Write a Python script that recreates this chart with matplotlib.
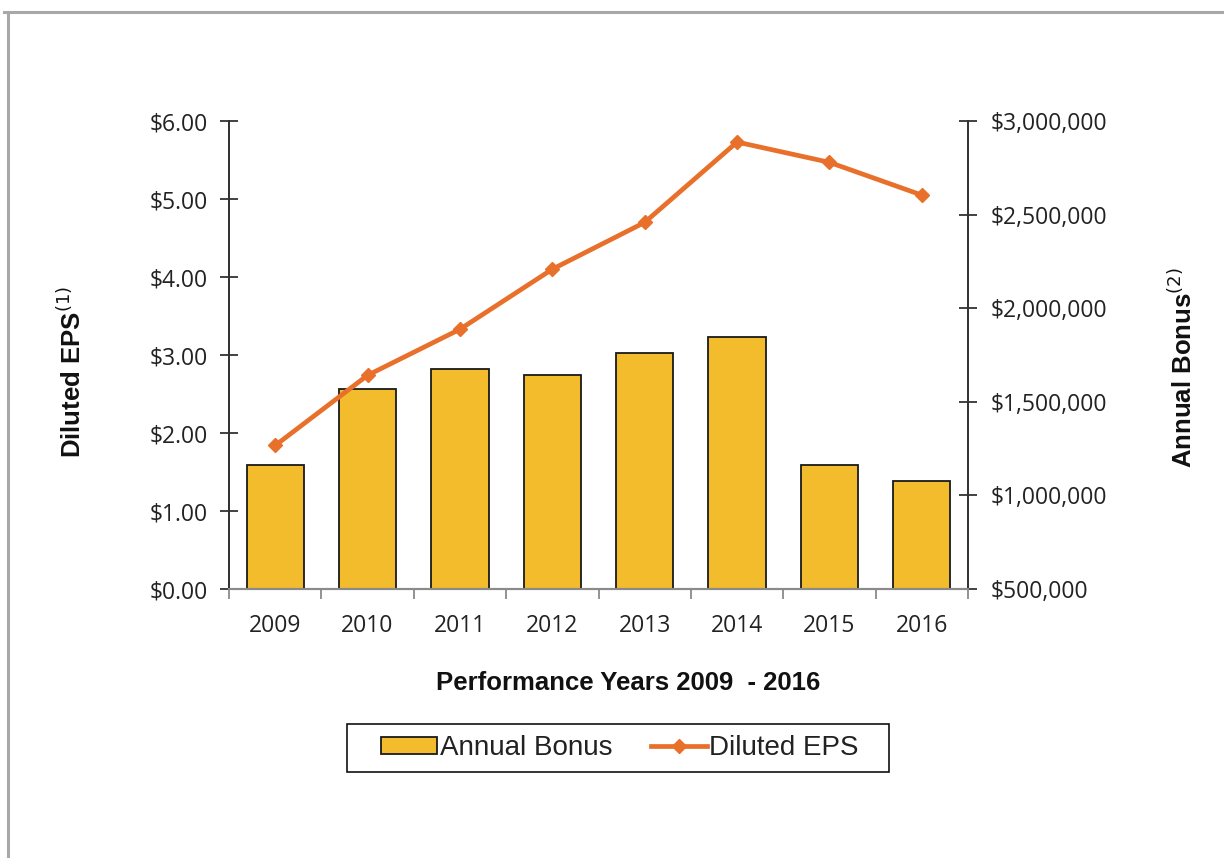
import matplotlib
matplotlib.use("Agg")
import matplotlib.pyplot as plt
from matplotlib.lines import Line2D
from matplotlib.patches import Patch, Rectangle
from matplotlib.ticker import FuncFormatter

years = ["2009", "2010", "2011", "2012", "2013", "2014", "2015", "2016"]
annual_bonus = [1160000, 1567000, 1674000, 1642000, 1759000, 1845000, 1161000, 1077000]
diluted_eps = [1.84, 2.74, 3.33, 4.10, 4.70, 5.73, 5.47, 5.05]

eps_ticks = [0, 1, 2, 3, 4, 5, 6]
bonus_ticks = [500000, 1000000, 1500000, 2000000, 2500000, 3000000]

bar_color = "#F2BC2C"
line_color = "#E8702A"
tick_font = "Open Sans"
label_font = "Liberation Sans"

fig = plt.figure(figsize=(12.24, 8.58), dpi=100)
fig.patch.set_facecolor("white")

# outer frame
fig.add_artist(Line2D([4/1224, 1.0], [1-12/858, 1-12/858], transform=fig.transFigure,
                      color="#A8A8A8", lw=2.2))
fig.add_artist(Line2D([8/1224, 8/1224], [0, 1-12/858], transform=fig.transFigure,
                      color="#A8A8A8", lw=2.2))

ax = fig.add_axes([229/1224, 1-589/858, (968-229)/1224, (589-121)/858])
ax2 = ax.twinx()

x = list(range(len(years)))
ax.bar(x, annual_bonus, width=0.62, color=bar_color, edgecolor="#1a1a1a", linewidth=1.3, zorder=2)
ax.set_ylim(500000, 3000000)
ax.set_xlim(-0.5, len(years) - 0.5)
ax.yaxis.tick_right()
ax.yaxis.set_label_position("right")
ax.set_yticks(bonus_ticks)
ax.yaxis.set_major_formatter(FuncFormatter(lambda v, p: "${:,.0f}".format(v)))

ax2.plot(x, diluted_eps, color=line_color, lw=3.4, marker="D", markersize=7,
         markeredgecolor=line_color, zorder=3)
ax2.set_ylim(0, 6)
ax2.yaxis.tick_left()
ax2.yaxis.set_label_position("left")
ax2.set_yticks(eps_ticks)
ax2.yaxis.set_major_formatter(FuncFormatter(lambda v, p: "${:.2f}".format(v)))

for a in (ax, ax2):
    a.spines["top"].set_visible(False)
    a.spines["left"].set_color("#333333")
    a.spines["right"].set_color("#333333")
    a.spines["left"].set_linewidth(1.3)
    a.spines["right"].set_linewidth(1.3)
    a.spines["bottom"].set_color("#8A8A8A")
    a.spines["bottom"].set_linewidth(1.5)
    a.set_facecolor("none")

ax.set_xticks([i + 0.5 for i in range(-1, len(years))], minor=False)
ax.set_xticklabels([])
ax.set_xticks(x, minor=True)
ax.set_xticklabels(years, minor=True, fontfamily=tick_font, fontsize=16.5, color="#222222")
ax.tick_params(axis="x", which="major", direction="out", length=7, width=1.3, color="#8A8A8A")
ax.tick_params(axis="x", which="minor", length=0, pad=18)
ax2.tick_params(axis="x", which="both", length=0, labelbottom=False)

ax.tick_params(axis="y", direction="inout", length=13, width=1.3, color="#333333", pad=10,
               labelsize=16.5, labelcolor="#222222")
ax2.tick_params(axis="y", direction="inout", length=13, width=1.3, color="#333333", pad=9,
                labelsize=16.5, labelcolor="#222222")
for lab in ax.get_yticklabels() + ax2.get_yticklabels():
    lab.set_fontfamily(tick_font)

fig.text(72/1224, 1-372/858, r"Diluted EPS$^{\rm (1)}$", rotation=90, ha="center", va="center",
         fontfamily=label_font, fontweight="bold", fontsize=18.5, color="#111111")
fig.text(1183/1224, 1-368/858, r"Annual Bonus$^{\rm (2)}$", rotation=90, ha="center", va="center",
         fontfamily=label_font, fontweight="bold", fontsize=18.5, color="#111111")
fig.text(628/1224, 1-683/858, "Performance Years 2009  - 2016", ha="center", va="center",
         fontfamily=label_font, fontweight="bold", fontsize=18.5, color="#111111")

handles = [Patch(facecolor=bar_color, edgecolor="#1a1a1a", linewidth=1.3),
           Line2D([], [], color=line_color, lw=3.4, marker="D", markersize=7)]
leg = fig.legend(handles, ["Annual Bonus", "Diluted EPS"], loc="center",
                 bbox_to_anchor=(620/1224, 1-748/858), ncol=2, frameon=False,
                 prop={"family": label_font, "size": 20}, handlelength=2.0, handletextpad=0.1,
                 columnspacing=1.4, borderpad=0.35, handleheight=0.55, borderaxespad=0)
for t in leg.get_texts():
    t.set_color("#222222")

# legend frame (wider padding than matplotlib's legend frame gives)
fig.add_artist(Rectangle((347/1224, 1-772/858), (889-347)/1224, (772-724)/858,
                         transform=fig.transFigure, fill=False, edgecolor="#111111", lw=1.2))

fig.savefig("out.png", dpi=100, facecolor="white")
